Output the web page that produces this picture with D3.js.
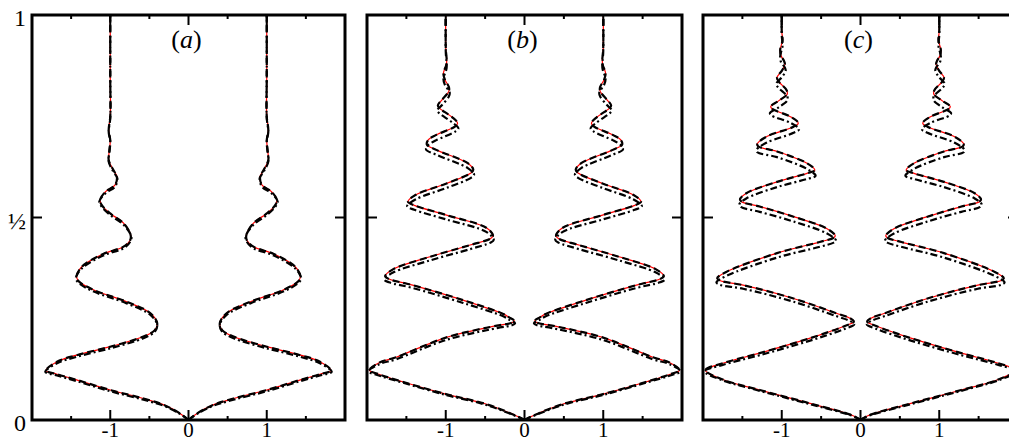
<!DOCTYPE html>
<html><head><meta charset="utf-8">
<script src="https://cdn.jsdelivr.net/npm/d3@7"></script>
<style>body{margin:0;background:#fff}svg{display:block}</style>
</head><body>
<svg id="chart" width="1009" height="442"></svg>
<script>
// ---------- data ----------
const panelLabels = ["a", "b", "c"];
const xTicksMajor = [-1, 0, 1];
const xTickLabels = ["-1", "0", "1"];
const xTicksMinor = [-1.5, -0.5, 0.5, 1.5];
const yTicks = [0, 0.5, 1];
const yTickLabels = ["0", "\u00BD", "1"];

// right-hand curve of each panel as [x, y]; left-hand curve is its mirror image
const curveA = [[0,0],[0.1,0.015],[0.3,0.036],[0.575,0.053],[1.0,0.074],[1.43,0.099],[1.68,0.113],[1.82,0.122],[1.68,0.144],[1.43,0.16],[1.0,0.181],[0.575,0.206],[0.43,0.222],[0.40,0.239],[0.49,0.264],[0.79,0.292],[1.21,0.321],[1.40,0.342],[1.43,0.354],[1.36,0.379],[1.09,0.41],[0.83,0.428],[0.745,0.444],[0.74,0.457],[0.83,0.486],[1.0,0.51],[1.11,0.531],[1.13,0.543],[1.06,0.564],[0.94,0.58],[0.915,0.601],[0.96,0.617],[1.02,0.642],[1.01,0.667],[1.0,0.691],[1.02,0.716],[1.0,0.749],[1.0,0.85],[1.0,1.0]];
const curveA_dd = [[0,0],[0.1,0.014],[0.3,0.034],[0.575,0.05],[1.0,0.071],[1.43,0.096],[1.68,0.11],[1.83,0.119],[1.68,0.14],[1.43,0.156],[1.0,0.177],[0.575,0.202],[0.43,0.218],[0.40,0.235],[0.49,0.26],[0.79,0.288],[1.21,0.317],[1.40,0.338],[1.44,0.35],[1.36,0.375],[1.09,0.406],[0.83,0.424],[0.745,0.44],[0.73,0.453],[0.83,0.482],[1.0,0.506],[1.11,0.527],[1.14,0.539],[1.06,0.56],[0.94,0.576],[0.91,0.597],[0.96,0.613],[1.02,0.638],[1.01,0.663],[1.0,0.687],[1.02,0.712],[1.0,0.745],[1.0,0.85],[1.0,1.0]];

const curveB = [[0,0],[0.1,0.01],[0.5,0.04],[1.0,0.064],[1.56,0.095],[1.85,0.113],[1.97,0.123],[1.84,0.142],[1.63,0.155],[0.99,0.204],[0.35,0.233],[0.16,0.24],[0.13,0.245],[0.2,0.254],[0.27,0.262],[0.78,0.296],[1.42,0.333],[1.72,0.348],[1.77,0.355],[1.67,0.372],[1.2,0.403],[0.69,0.432],[0.43,0.448],[0.40,0.455],[0.48,0.474],[0.99,0.506],[1.4,0.53],[1.48,0.539],[1.38,0.556],[0.99,0.584],[0.68,0.61],[0.65,0.618],[0.72,0.634],[1.12,0.667],[1.24,0.68],[1.22,0.692],[1.12,0.704],[0.88,0.725],[0.85,0.733],[0.92,0.748],[1.08,0.77],[1.1,0.777],[1.05,0.79],[0.96,0.812],[0.96,0.822],[1.01,0.84],[1.03,0.856],[0.99,0.88],[1.0,0.92],[1.0,1.0]];
const curveB_dd = [[0,0],[0.1,0.009],[0.5,0.038],[1.0,0.062],[1.56,0.093],[1.85,0.11],[1.98,0.12],[1.84,0.138],[1.63,0.15],[0.99,0.198],[0.35,0.227],[0.16,0.234],[0.12,0.239],[0.2,0.248],[0.27,0.256],[0.78,0.289],[1.42,0.326],[1.72,0.34],[1.78,0.347],[1.67,0.364],[1.2,0.394],[0.69,0.422],[0.43,0.438],[0.39,0.445],[0.48,0.464],[0.99,0.495],[1.4,0.519],[1.49,0.528],[1.38,0.545],[0.99,0.573],[0.68,0.598],[0.64,0.606],[0.72,0.622],[1.12,0.655],[1.25,0.668],[1.22,0.679],[1.12,0.691],[0.88,0.712],[0.84,0.72],[0.92,0.735],[1.08,0.757],[1.11,0.764],[1.05,0.777],[0.96,0.799],[0.95,0.809],[1.01,0.827],[1.03,0.843],[0.99,0.868],[1.0,0.91],[1.0,1.0]];

const curveC = [[0,0],[0.1,0.011],[0.64,0.041],[1.28,0.074],[1.75,0.1],[1.97,0.123],[1.75,0.14],[1.28,0.165],[0.64,0.202],[0.2,0.232],[0.085,0.243],[0.14,0.252],[0.3,0.263],[0.85,0.3],[1.49,0.333],[1.78,0.344],[1.82,0.35],[1.7,0.366],[1.06,0.412],[0.51,0.44],[0.34,0.45],[0.32,0.455],[0.43,0.473],[0.85,0.502],[1.28,0.527],[1.51,0.539],[1.53,0.545],[1.45,0.56],[1.06,0.588],[0.68,0.609],[0.58,0.617],[0.68,0.634],[1.06,0.663],[1.3,0.676],[1.31,0.682],[1.19,0.7],[0.85,0.724],[0.79,0.733],[0.89,0.749],[1.12,0.768],[1.14,0.774],[1.04,0.788],[0.93,0.805],[0.94,0.815],[1.04,0.836],[1.06,0.846],[1.0,0.862],[0.96,0.878],[0.97,0.886],[1.01,0.9],[1.02,0.914],[0.99,0.938],[1.0,0.96],[1.0,1.0]];
const curveC_dd = [[0,0],[0.1,0.01],[0.64,0.039],[1.28,0.072],[1.75,0.098],[1.98,0.12],[1.75,0.136],[1.28,0.16],[0.64,0.196],[0.2,0.225],[0.08,0.236],[0.14,0.245],[0.3,0.256],[0.85,0.292],[1.49,0.324],[1.79,0.334],[1.83,0.34],[1.7,0.356],[1.06,0.401],[0.51,0.428],[0.34,0.438],[0.31,0.443],[0.43,0.461],[0.85,0.49],[1.28,0.514],[1.52,0.526],[1.54,0.532],[1.45,0.547],[1.06,0.575],[0.68,0.595],[0.57,0.603],[0.68,0.62],[1.06,0.649],[1.31,0.661],[1.32,0.667],[1.19,0.685],[0.85,0.709],[0.78,0.718],[0.89,0.734],[1.13,0.752],[1.15,0.758],[1.04,0.772],[0.93,0.789],[0.93,0.799],[1.04,0.82],[1.07,0.83],[1.0,0.846],[0.95,0.862],[0.96,0.87],[1.01,0.884],[1.02,0.898],[0.99,0.924],[1.0,0.95],[1.0,1.0]];

const mainCurves = [curveA, curveB, curveC];
const dashDotCurves = [curveA_dd, curveB_dd, curveC_dd];

// ---------- layout ----------
const svg = d3.select("#chart");
const panelX = [[32, 345], [367, 682], [703, 1018]];
const yS = d3.scaleLinear().domain([0, 1]).range([420, 15]);
const font = "'Liberation Serif','Times New Roman',serif";

panelX.forEach((px, i) => {
  const xS = d3.scaleLinear().domain([-2, 2]).range(px);
  const g = svg.append("g");
  const clipId = "clip" + i;
  svg.append("clipPath").attr("id", clipId).append("rect")
    .attr("x", px[0]).attr("y", 15).attr("width", px[1] - px[0]).attr("height", 405);
  const cg = g.append("g").attr("clip-path", `url(#${clipId})`);

  [1, -1].forEach(sign => {
    const line = d3.line()
      .x(d => xS(sign * d[0])).y(d => yS(d[1]))
      .curve(d3.curveCatmullRom.alpha(0.5));
    cg.append("path").attr("d", line(mainCurves[i]))
      .attr("fill", "none").attr("stroke", "#ff0000").attr("stroke-width", 1.2);
    cg.append("path").attr("d", line(mainCurves[i]))
      .attr("fill", "none").attr("stroke", "#000").attr("stroke-width", 2.2)
      .attr("stroke-dasharray", "7,4");
    cg.append("path").attr("d", line(dashDotCurves[i]))
      .attr("fill", "none").attr("stroke", "#000").attr("stroke-width", 2.2)
      .attr("stroke-dasharray", "7,3,2,3");
  });

  // frame
  g.append("rect").attr("x", px[0]).attr("y", yS(1))
    .attr("width", px[1] - px[0]).attr("height", yS(0) - yS(1))
    .attr("fill", "none").attr("stroke", "#000").attr("stroke-width", 3);

  // x ticks (bottom & top, inward)
  const tick = (vals, len) => {
    vals.forEach(v => {
      g.append("line").attr("x1", xS(v)).attr("x2", xS(v))
        .attr("y1", yS(0)).attr("y2", yS(0) - len).attr("stroke", "#000").attr("stroke-width", 2);
      g.append("line").attr("x1", xS(v)).attr("x2", xS(v))
        .attr("y1", yS(1)).attr("y2", yS(1) + len).attr("stroke", "#000").attr("stroke-width", 2);
    });
  };
  tick(xTicksMajor, 10);
  tick(xTicksMinor, 4);

  // y tick at 1/2 on both sides
  [yTicks[1]].forEach(v => {
    g.append("line").attr("x1", px[0]).attr("x2", px[0] + 10)
      .attr("y1", yS(v)).attr("y2", yS(v)).attr("stroke", "#000").attr("stroke-width", 2);
    g.append("line").attr("x1", px[1]).attr("x2", px[1] - 10)
      .attr("y1", yS(v)).attr("y2", yS(v)).attr("stroke", "#000").attr("stroke-width", 2);
  });

  // x tick labels
  xTicksMajor.forEach((v, k) => {
    g.append("text").attr("x", xS(v)).attr("y", 437)
      .attr("text-anchor", "middle").attr("font-family", font).attr("font-size", 21)
      .text(xTickLabels[k]);
  });

  // panel label
  const t = g.append("text").attr("x", xS(0) - 2).attr("y", 48)
    .attr("text-anchor", "middle").attr("font-family", font).attr("font-size", 26);
  t.append("tspan").text("(");
  t.append("tspan").attr("font-style", "italic").text(panelLabels[i]);
  t.append("tspan").text(")");

  if (i === 0) {
    yTicks.forEach((v, k) => {
      svg.append("text").attr("x", 26).attr("y", yS(v) + 11)
        .attr("text-anchor", "end").attr("font-family", font).attr("font-size", 24)
        .text(yTickLabels[k]);
    });
  }
});
</script>
</body></html>
